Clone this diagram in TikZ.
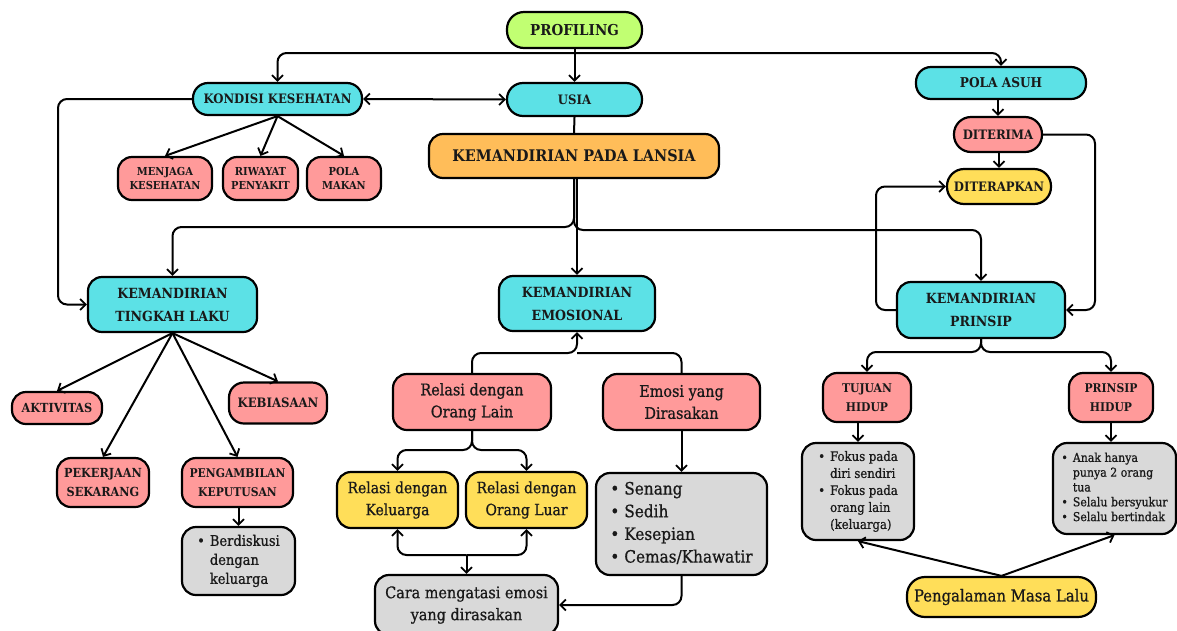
\documentclass[tikz,border=0pt]{standalone}
\usepackage{fontspec}
\setmainfont{DejaVu Serif Condensed}
\newfontfamily\medfont{DejaVu Serif Condensed}[FakeBold=0.8]
\usetikzlibrary{arrows.meta}
\definecolor{cy}{HTML}{5CE1E6}
\definecolor{pk}{HTML}{FF9A9A}
\definecolor{og}{HTML}{FFBD59}
\definecolor{yl}{HTML}{FFDE59}
\definecolor{gn}{HTML}{C1FF72}
\definecolor{gy}{HTML}{D9D9D9}
\newcommand\fz[2]{\fontsize{#1}{#2}\selectfont}
\newcommand\blist[1]{\begin{tabular}{@{}l@{\hspace{5pt}}l@{}}#1\end{tabular}}
\begin{document}
\begin{tikzpicture}[x=1pt,y=-1pt,
  bx/.style={draw=black, line width=2.2pt, inner sep=0pt, align=center, text=black!90},
  hb/.style 2 args={bx, font={\bfseries\fz{#1}{#2}}},
  rb/.style 2 args={bx, font={\medfont\fz{#1}{#2}}},
  sz/.style 2 args={minimum width=#1pt, minimum height=#2pt},
  ln/.style={line width=2pt, rounded corners=9pt},
  tip/.tip={Straight Barb[length=5.5pt,width=11pt,line width=1.8pt]},
  arr/.style={ln, -tip},
  arrb/.style={ln, tip-tip}
]
\useasboundingbox (0,0) rectangle (1177,630);
\fill[white] (0,0) rectangle (1177,630);

% nodes
\node[hb={15}{18},fill=gn,sz={135}{36},rounded corners=17pt] (prof) at (574.5,30) {PROFILING};
\node[hb={13}{16},fill=cy,sz={135}{33},rounded corners=16pt] (usia) at (574.5,99.5) {USIA};
\node[hb={13}{16},fill=cy,sz={169}{32},rounded corners=15pt] (kondisi) at (277.5,99) {KONDISI KESEHATAN};
\node[hb={11}{13.5},fill=pk,sz={94}{43},rounded corners=14pt] (menjaga) at (165,178.5) {MENJAGA\\KESEHATAN};
\node[hb={11}{13.5},fill=pk,sz={75}{43},rounded corners=14pt] (riwayat) at (260.5,178.5) {RIWAYAT\\PENYAKIT};
\node[hb={11}{13.5},fill=pk,sz={74}{43},rounded corners=14pt] (pola) at (344,178.5) {POLA\\MAKAN};
\node[hb={16}{19},fill=og,sz={290}{44},rounded corners=14pt] (kpl) at (574,156) {KEMANDIRIAN PADA LANSIA};

\node[hb={13.5}{16},fill=cy,sz={170}{32},rounded corners=15pt] (polaasuh) at (1001,83) {POLA ASUH};
\node[hb={13}{16},fill=pk,sz={88}{35},rounded corners=17pt] (diterima) at (998,134.5) {DITERIMA};
\node[hb={13}{16},fill=yl,sz={104}{35},rounded corners=17pt] (diterapkan) at (999,186.5) {DITERAPKAN};

\node[hb={14}{23},fill=cy,sz={169}{55},rounded corners=14pt] (ktl) at (172.5,304.5) {KEMANDIRIAN\\TINGKAH LAKU};
\node[hb={14}{23},fill=cy,sz={156}{55},rounded corners=14pt] (ke) at (577,303.5) {KEMANDIRIAN\\EMOSIONAL};
\node[hb={14}{23},fill=cy,sz={168}{56},rounded corners=14pt] (kp) at (981,310) {KEMANDIRIAN\\PRINSIP};

\node[hb={12.5}{15},fill=pk,sz={90}{32},rounded corners=14pt] (aktivitas) at (57,408) {AKTIVITAS};
\node[hb={13}{15},fill=pk,sz={98}{41},rounded corners=15pt] (kebiasaan) at (278,403) {KEBIASAAN};
\node[hb={12.5}{19},fill=pk,sz={92}{49},rounded corners=14pt] (pekerjaan) at (103,482.5) {PEKERJAAN\\SEKARANG};
\node[hb={12}{19},fill=pk,sz={111}{49},rounded corners=14pt] (pengambilan) at (237.5,482.5) {PENGAMBILAN\\KEPUTUSAN};
\node[rb={14.5}{19},fill=gy,sz={113}{68},rounded corners=14pt] (diskusi) at (238.5,561) {\blist{\textbullet & Berdiskusi\\ & dengan\\ & keluarga}};

\node[rb={16}{22},fill=pk,sz={158}{56},rounded corners=14pt] (rol) at (472,402) {Relasi dengan\\Orang Lain};
\node[rb={16}{22},fill=pk,sz={157}{56},rounded corners=14pt] (emosi) at (681.5,402) {Emosi yang\\Dirasakan};
\node[rb={15.5}{22},fill=yl,sz={121}{56},rounded corners=14pt] (rk) at (397.5,500) {Relasi dengan\\Keluarga};
\node[rb={15.5}{22},fill=yl,sz={121}{56},rounded corners=14pt] (rolu) at (526.5,500) {Relasi dengan\\Orang Luar};
\node[rb={16}{22},fill=gy,sz={183}{60},rounded corners=14pt] (cara) at (466.5,605) {Cara mengatasi emosi\\yang dirasakan};
\node[rb={17}{22.7},fill=gy,sz={171}{102},rounded corners=14pt] (list) at (681.5,524) {\blist{\textbullet & Senang\\ \textbullet & Sedih\\ \textbullet & Kesepian\\ \textbullet & Cemas/Khawatir}};

\node[hb={12}{19},fill=pk,sz={88}{49},rounded corners=14pt] (tujuan) at (867,397.5) {TUJUAN\\HIDUP};
\node[hb={12}{19},fill=pk,sz={84}{49},rounded corners=14pt] (prinsiph) at (1111,397.5) {PRINSIP\\HIDUP};
\node[rb={13}{17},fill=gy,sz={112}{97},rounded corners=14pt] (fokus) at (858,491.5) {\blist{\textbullet & Fokus pada\\ & diri sendiri\\ \textbullet & Fokus pada\\ & orang lain\\ & (keluarga)}};
\node[rb={12.2}{14.8},fill=gy,sz={123}{91},rounded corners=14pt] (anak) at (1114.5,488.5) {\blist{\textbullet & Anak hanya\\ & punya 2 orang\\ & tua\\ \textbullet & Selalu bersyukur\\ \textbullet & Selalu bertindak}};
\node[rb={16.5}{18},fill=yl,sz={189}{40},rounded corners=18pt] (pml) at (1001.5,597) {Pengalaman Masa Lalu};

% helper coordinates
\coordinate (pj) at (574.5,53);
\coordinate (kl) at (58,304.5);
\coordinate (ej) at (577,353);
\coordinate (rj) at (472,450);
\coordinate (cj) at (466.5,555);
\coordinate (dr) at (1095,310);
\coordinate (dl) at (876,186.5);
\coordinate (pj2) at (981,352);

% connectors
\draw[arr] (prof.south) -- (usia.north);
\draw[arr] (pj) -| (kondisi.north);
\draw[arr] (pj) -| (polaasuh.north);
\draw[arrb] (kondisi.east) -- (usia.west);
\draw[arr] (kondisi.south) -- (menjaga.north);
\draw[arr] (kondisi.south) -- (riwayat.north);
\draw[arr] (kondisi.south) -- (pola.north);
\draw[arr] (kondisi.west) -| (kl) -- (ktl.west);
\draw[ln] (usia.south) -- (kpl.north);
\draw[arr] (kpl.south) |- (172.5,227) -- (ktl.north);
\draw[arr] (kpl.south) |- (981,230) -- (kp.north);
\draw[arr] (kpl.south -| ke.north) -- (ke.north);

\draw[arr] (polaasuh.south -| diterima.north) -- (diterima.north);
\draw[arr] (diterima.south -| diterapkan.north) -- (diterapkan.north);
\draw[arr] (diterima.east) -| (dr) -- (kp.east);
\draw[arr] (kp.west) -| (dl) -- (diterapkan.west);

\draw[arr] (ktl.south) -- (aktivitas.north);
\draw[arr] (ktl.south) -- (kebiasaan.north);
\draw[arr] (ktl.south) -- (pekerjaan.north);
\draw[arr] (ktl.south) -- (pengambilan.north);
\draw[arr] (pengambilan.south -| diskusi.north) -- (diskusi.north);

\draw[arr] (rol.north) |- (ej) -- (ke.south);
\draw[ln] (emosi.north) |- (ej);
\draw[arr] (rol.south) |- (rk.north |- rj) -- (rk.north);
\draw[arr] (rol.south) |- (rolu.north |- rj) -- (rolu.north);
\draw[arr] (cj) -| (rk.south);
\draw[arr] (cj) -| (rolu.south);
\draw[arr] (cj) -- (cara.north);
\draw[arr] (emosi.south) -- (list.north);
\draw[arr] (list.south) |- (cara.east);

\draw[arr] (kp.south) |- (tujuan.north |- pj2) -- (tujuan.north);
\draw[arr] (kp.south) |- (prinsiph.north |- pj2) -- (prinsiph.north);
\draw[arr] (tujuan.south -| fokus.north) -- (fokus.north);
\draw[arr] (prinsiph.south) -- (prinsiph.south |- anak.north);
\draw[arr] (pml.north) -- (fokus.south);
\draw[arr] (pml.north) -- (anak.south);
\end{tikzpicture}
\end{document}
